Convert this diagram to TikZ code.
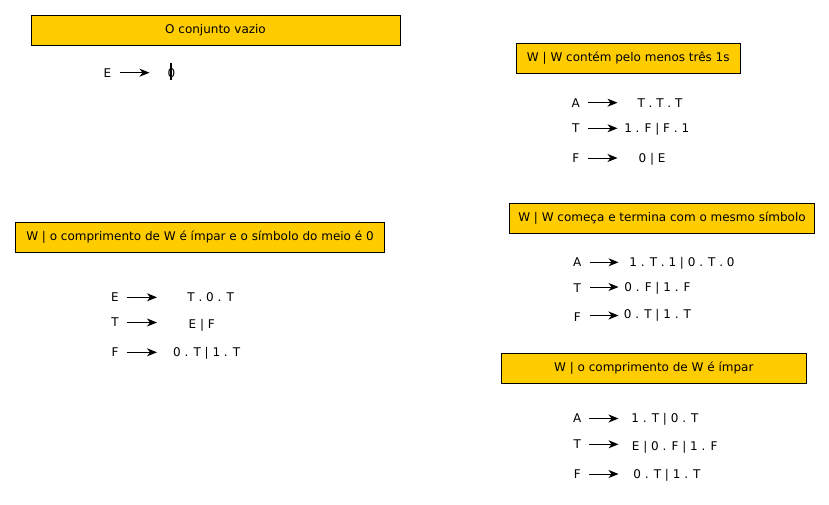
\documentclass[tikz,border=0pt]{standalone}
\usepackage{fontspec}
\setmainfont{DejaVu Sans}
\usetikzlibrary{arrows.meta}
\definecolor{boxyellow}{HTML}{FFCC00}
\begin{document}
\begin{tikzpicture}[x=1pt,y=-1pt,
  titlebox/.style={draw=black,fill=boxyellow,line width=0.9pt,inner sep=0pt,minimum height=30pt,font=\fontsize{12}{14}\selectfont},
  sym/.style={anchor=base,inner sep=0pt,font=\fontsize{12}{14}\selectfont},
  prod/.style={-{Stealth[length=10pt,width=8pt,inset=3pt]},line width=1pt}]
\useasboundingbox[fill=white] (0,0) rectangle (829,504);

% Box 1
\node[titlebox,minimum width=369pt] (b1) at (215.5,30) {O conjunto vazio};
\node[sym] (b1l) at (107.5,77.3) {E};
\coordinate (b1s) at (120,72.7); \coordinate (b1e) at (149.5,72.7);
\draw[prod] (b1s) -- (b1e);
\node[sym] (b1r) at (171.5,77.3) {0};
\coordinate (b1bt) at (170.7,62.7); \coordinate (b1bb) at (170.7,80);
\draw[line width=1.6pt] (b1bt) -- (b1bb);

% Box 2
\node[titlebox,minimum width=224pt] (b2) at (628.3,58.3) {W | W contém pelo menos três 1s};
\node[sym] (b2la) at (575.7,107) {A};
\node[sym] (b2lt) at (575.7,132.5) {T};
\node[sym] (b2lf) at (575.7,162.2) {F};
\coordinate (b2as) at (588.3,102.7); \coordinate (b2ae) at (617.5,102.7);
\coordinate (b2ts) at (588.3,128.3); \coordinate (b2te) at (617.5,128.3);
\coordinate (b2fs) at (588.3,158); \coordinate (b2fe) at (617.5,158);
\draw[prod] (b2as) -- (b2ae);
\draw[prod] (b2ts) -- (b2te);
\draw[prod] (b2fs) -- (b2fe);
\node[sym] (b2ra) at (660,107) {T . T . T};
\node[sym] (b2rt) at (656.7,132.5) {1 . F | F . 1};
\node[sym] (b2rf) at (652,162.2) {0 | E};

% Box 3
\node[titlebox,minimum width=369.4pt] (b3) at (200,237) {W | o comprimento de W é ímpar e o símbolo do meio é 0};
\node[sym] (b3le) at (115,301.5) {E};
\node[sym] (b3lt) at (115,326) {T};
\node[sym] (b3lf) at (115,356.5) {F};
\coordinate (b3es) at (127.3,297.3); \coordinate (b3ee) at (157,297.3);
\coordinate (b3ts) at (127.3,322.5); \coordinate (b3te) at (157,322.5);
\coordinate (b3fs) at (127.3,352.3); \coordinate (b3fe) at (157,352.3);
\draw[prod] (b3es) -- (b3ee);
\draw[prod] (b3ts) -- (b3te);
\draw[prod] (b3fs) -- (b3fe);
\node[sym] (b3re) at (210.7,301.5) {T . 0 . T};
\node[sym] (b3rt) at (201.7,328.2) {E | F};
\node[sym] (b3rf) at (206.7,356.5) {0 . T | 1 . T};

% Box 4
\node[titlebox,minimum width=305.4pt,minimum height=29.7pt] (b4) at (662,218.2) {W | W começa e termina com o mesmo símbolo};
\node[sym] (b4la) at (577.3,266.5) {A};
\node[sym] (b4lt) at (577.3,292.5) {T};
\node[sym] (b4lf) at (577.3,321.5) {F};
\coordinate (b4as) at (590,262.3); \coordinate (b4ae) at (618.5,262.3);
\coordinate (b4ts) at (590,287); \coordinate (b4te) at (618.5,287);
\coordinate (b4fs) at (590,315.5); \coordinate (b4fe) at (618.5,315.5);
\draw[prod] (b4as) -- (b4ae);
\draw[prod] (b4ts) -- (b4te);
\draw[prod] (b4fs) -- (b4fe);
\node[sym] (b4ra) at (682,266.5) {1 . T . 1 | 0 . T . 0};
\node[sym] (b4rt) at (657.5,291.5) {0 . F | 1 . F};
\node[sym] (b4rf) at (657.5,318.2) {0 . T | 1 . T};

% Box 5
\node[titlebox,minimum width=305pt] (b5) at (653.8,368.3) {W | o comprimento de W é ímpar};
\node[sym] (b5la) at (577.3,422.5) {A};
\node[sym] (b5lt) at (577.3,448.2) {T};
\node[sym] (b5lf) at (577.3,478.2) {F};
\coordinate (b5as) at (589.3,418.5); \coordinate (b5ae) at (618.5,418.5);
\coordinate (b5ts) at (589.3,444.3); \coordinate (b5te) at (618.5,444.3);
\coordinate (b5fs) at (589.3,474); \coordinate (b5fe) at (618.5,474);
\draw[prod] (b5as) -- (b5ae);
\draw[prod] (b5ts) -- (b5te);
\draw[prod] (b5fs) -- (b5fe);
\node[sym] (b5ra) at (665,422.7) {1 . T | 0 . T};
\node[sym] (b5rt) at (674.7,450.2) {E | 0 . F | 1 . F};
\node[sym] (b5rf) at (667,478.2) {0 . T | 1 . T};
\end{tikzpicture}
\end{document}
